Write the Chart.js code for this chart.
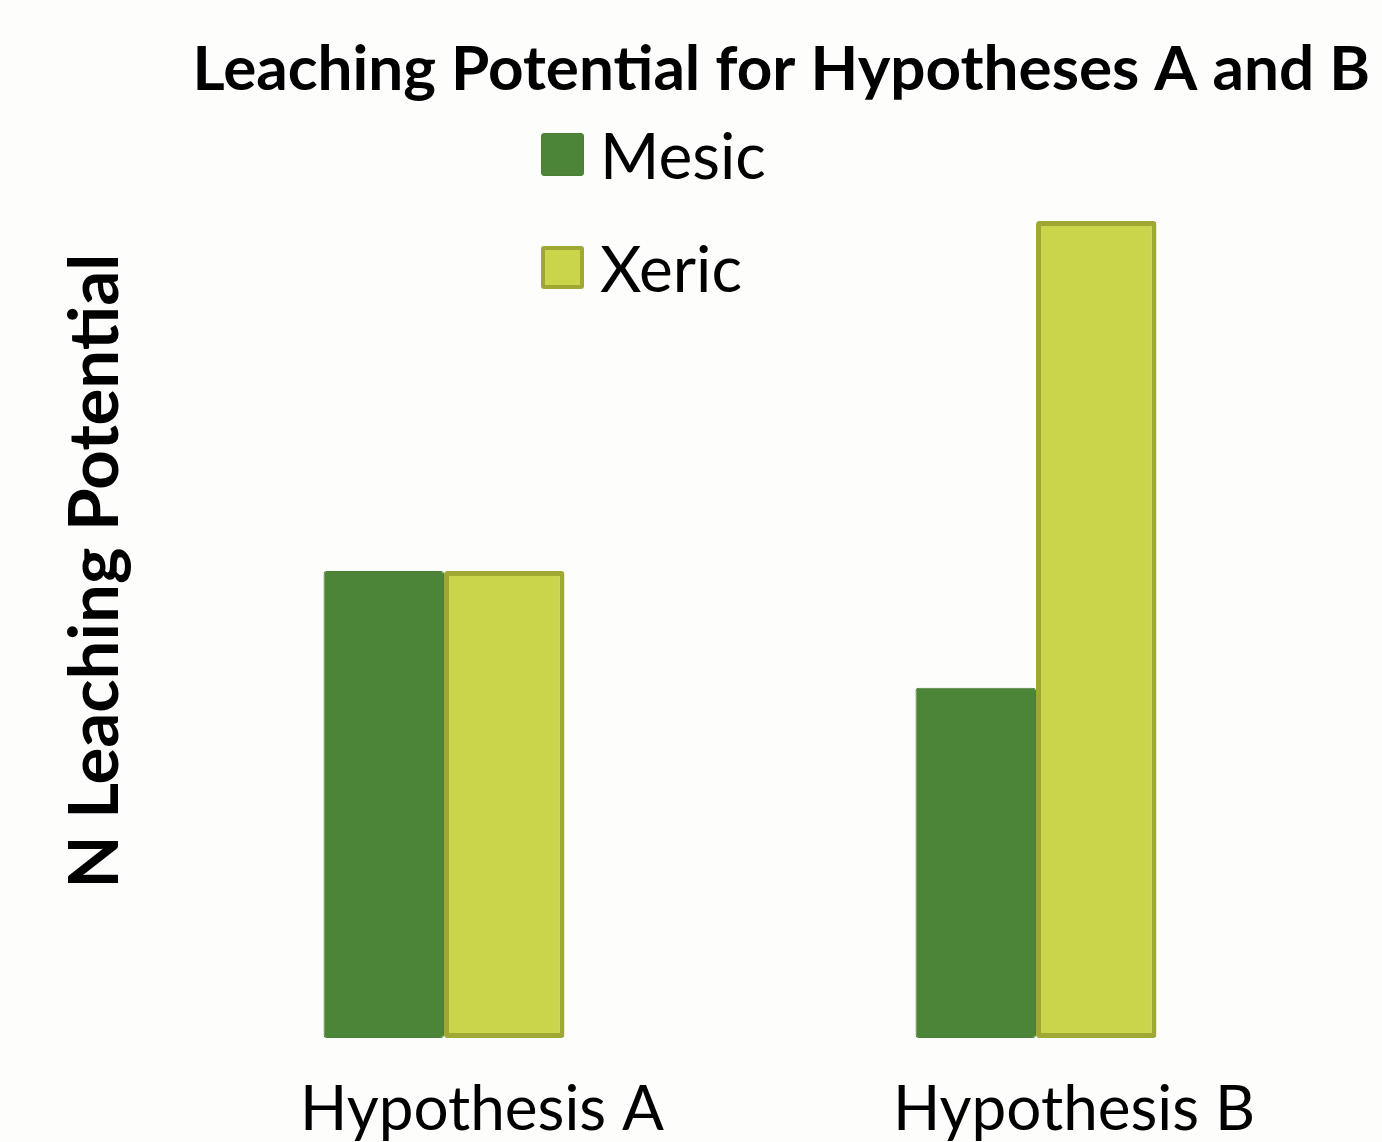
<!DOCTYPE html>
<html>
<head>
<meta charset="utf-8">
<script src="https://cdn.jsdelivr.net/npm/chart.js@4.4.1/dist/chart.umd.min.js"></script>
<style>
  body { margin: 0; background: #fdfdfb; }
  #wrap { position: relative; width: 1382px; height: 1142px; overflow: hidden; }
  #legend { position: absolute; left: 541px; top: 126px; font-family: Lato, "Open Sans", sans-serif; font-size: 64px; color: #000; }
  .item { display: flex; align-items: center; height: 56px; margin-bottom: 57px; }
  .box { width: 43px; height: 43px; box-sizing: border-box; border-radius: 3px; margin-right: 16px; }
</style>
</head>
<body>
<div id="wrap">
  <canvas id="leaching"></canvas>
  <div id="legend"></div>
</div>
<script>
// data
const hypotheses = ["Hypothesis A", "Hypothesis B"];
const mesicValues = [4, 3];
const xericValues = [4, 7];

const mesicColor = "#4c8538";
const xericColor = "#cbd54a";
const xericBorder = "#a0a834";

const ctx = document.getElementById("leaching").getContext("2d");

const chart = new Chart(ctx, {
  type: "bar",
  data: {
    labels: hypotheses,
    datasets: [
      {
        label: "Mesic",
        data: mesicValues,
        backgroundColor: mesicColor,
        borderColor: "#4a8035",
        borderWidth: 1,
        borderRadius: 3,
        borderSkipped: false,
      },
      {
        label: "Xeric",
        data: xericValues,
        backgroundColor: xericColor,
        borderColor: xericBorder,
        borderWidth: 5,
        borderRadius: 3,
        borderSkipped: false,
      },
    ],
  },
  options: {
    responsive: true,
    maintainAspectRatio: false,
    animation: false,
    layout: { padding: { left: 0, right: 12, top: 0, bottom: 0 } },
    datasets: {
      bar: { barPercentage: 1, categoryPercentage: 0.407 },
    },
    plugins: {
      legend: { display: false },
      tooltip: { enabled: false },
      title: {
        display: true,
        text: "Leaching Potential for Hypotheses A and B",
        align: "end",
        color: "#000",
        font: { family: "Lato", weight: "bold", size: 62, lineHeight: 1.1 },
        padding: { top: 36, bottom: 0 },
      },
    },
    scales: {
      x: {
        grid: { display: false },
        border: { display: false },
        ticks: {
          color: "#000",
          font: { family: "Lato", size: 62, lineHeight: 1.2 },
          padding: 27,
          labelOffset: 38,
          maxRotation: 0,
        },
        afterFit: (scale) => { scale.height = 104; },
      },
      y: {
        min: 0,
        max: 8,
        grid: { display: false },
        border: { display: false },
        ticks: { display: false },
        title: {
          display: true,
          text: "N Leaching Potential",
          color: "#000",
          font: { family: "Lato", weight: "bold", size: 69, lineHeight: 1.2 },
          padding: { top: 54, bottom: 0 },
        },
        afterFit: (scale) => { scale.width = 148; },
      },
      y2: {
        position: "right",
        grid: { display: false },
        border: { display: false },
        ticks: { display: false },
        afterFit: (scale) => { scale.width = 38; },
      },
    },
  },
});

// legend laid over the plot area, like the original
const legendEl = document.getElementById("legend");
chart.data.datasets.forEach(ds => {
  const item = document.createElement("div");
  item.className = "item";
  const box = document.createElement("span");
  box.className = "box";
  box.style.background = ds.backgroundColor;
  box.style.border = (ds.borderWidth > 1 ? 4 : 1) + "px solid " + ds.borderColor;
  const txt = document.createElement("span");
  txt.textContent = ds.label;
  item.appendChild(box);
  item.appendChild(txt);
  legendEl.appendChild(item);
});
</script>
</body>
</html>
